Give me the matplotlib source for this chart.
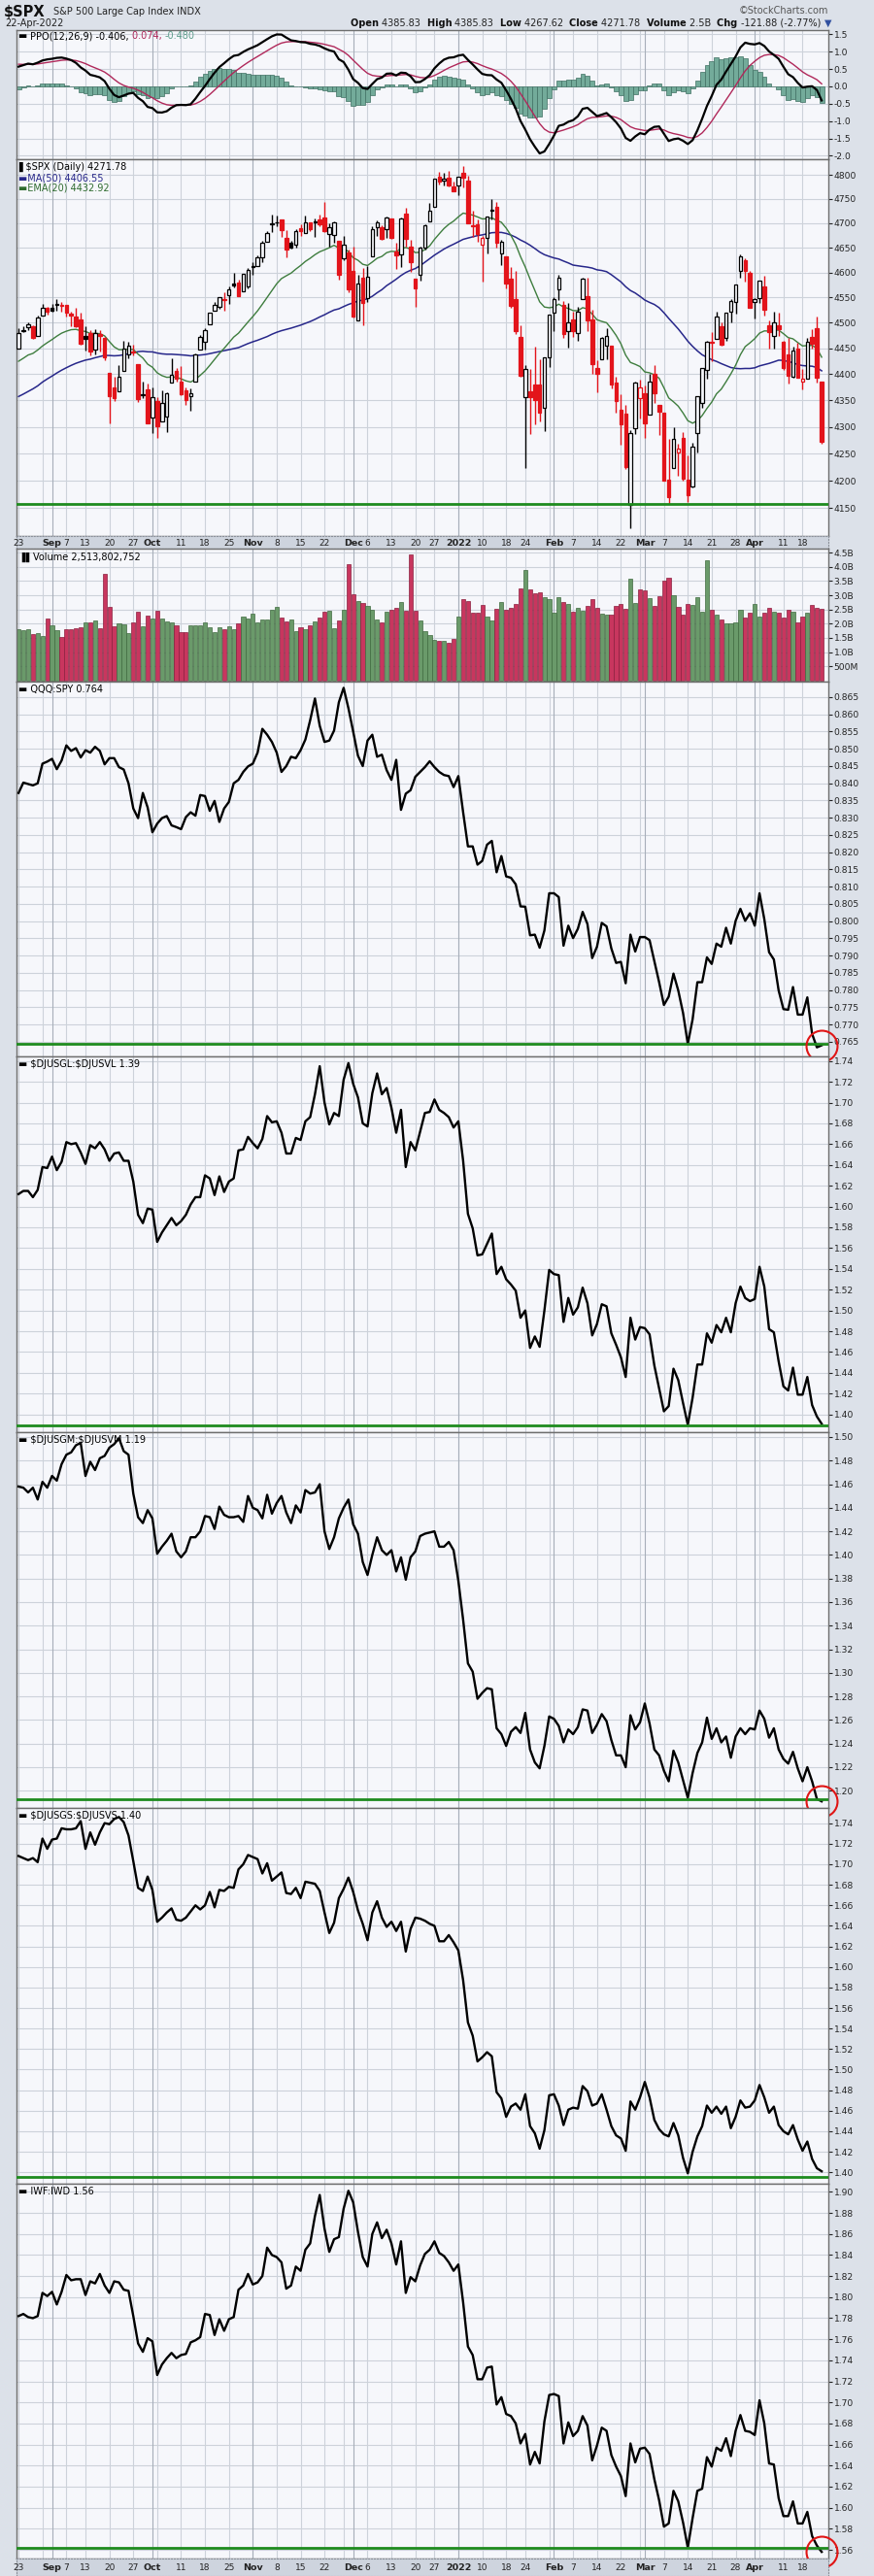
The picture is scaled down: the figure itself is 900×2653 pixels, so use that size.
import matplotlib
matplotlib.use("Agg")
import matplotlib.pyplot as plt
import numpy as np
import pandas as pd
from matplotlib.offsetbox import TextArea, HPacker, AnnotationBbox
from matplotlib.ticker import NullLocator

W, H = 900, 2653
plt.rcParams['font.family'] = ['DejaVu Sans']

# ---------------- data ----------------
holidays = ['2021-09-06', '2021-11-25', '2021-12-24', '2022-01-17', '2022-02-21', '2022-04-15']
dates = pd.bdate_range('2021-08-23', '2022-04-22', freq='C', holidays=holidays)

# closes before the visible window (needed to seed the moving averages / PPO)
prior_close = [4239.18, 4247.44, 4255.15, 4246.59, 4223.70, 4221.86, 4166.45, 4224.79, 4246.44, 4241.84,
               4266.49, 4280.70, 4290.61, 4291.80, 4297.50, 4319.94, 4352.34, 4343.54, 4358.13, 4320.82,
               4369.55, 4384.63, 4369.21, 4374.30, 4360.03, 4327.16, 4258.49, 4323.06, 4358.69, 4367.48,
               4411.79, 4422.30, 4401.46, 4400.64, 4419.15, 4395.26, 4387.16, 4423.15, 4402.66, 4429.10,
               4436.52, 4432.35, 4436.75, 4447.70, 4460.83, 4468.00, 4479.71, 4448.08, 4400.27, 4405.80,
               4441.67]

opens = [4450.29, 4484.40, 4490.45, 4493.75, 4474.10, 4513.76, 4529.75,
         4528.80, 4534.48, 4532.42, 4535.38, 4518.09, 4513.02, 4506.92, 4474.81, 4479.33, 4447.49, 4477.09,
         4469.74, 4402.95, 4374.45, 4367.43, 4406.75, 4438.04, 4442.12, 4419.54, 4362.41, 4370.67,
         4317.16, 4348.84, 4309.87, 4319.57, 4383.73, 4406.51, 4385.44, 4368.31, 4358.01, 4386.75, 4447.69,
         4463.72, 4497.34, 4524.42, 4532.24, 4546.12, 4553.69, 4578.69, 4580.22, 4562.84, 4572.87,
         4610.62, 4613.34, 4630.65, 4662.93, 4699.26, 4701.48, 4707.25, 4670.26, 4659.39, 4655.24, 4689.30,
         4679.42, 4701.50, 4700.72, 4708.44, 4712.00, 4678.48, 4675.78, 4664.63, 4628.75, 4640.25,
         4602.82, 4504.73, 4589.49, 4548.37, 4631.97, 4690.86, 4691.00, 4687.64, 4710.30, 4642.99, 4636.46,
         4719.13, 4652.50, 4587.90, 4594.96, 4650.36, 4703.96, 4733.99, 4795.49, 4788.64, 4794.23, 4775.21,
         4778.14, 4804.51, 4787.99, 4693.39, 4697.66, 4655.34, 4669.14, 4728.59, 4733.56, 4637.99, 4632.24,
         4588.03, 4547.35, 4471.38, 4356.32, 4366.64, 4380.58, 4380.58, 4336.19, 4431.79,
         4519.57, 4566.39, 4535.41, 4482.79, 4505.75, 4480.02, 4547.00, 4553.24, 4506.27, 4412.61, 4429.28,
         4455.75, 4456.06, 4384.57, 4332.74, 4324.93, 4155.77, 4298.38, 4354.17,
         4363.14, 4322.56, 4401.31, 4342.12, 4327.01, 4202.66, 4223.10, 4252.55, 4279.50, 4202.75, 4188.82,
         4288.14, 4345.11, 4407.34, 4462.40, 4469.10, 4493.10, 4469.98, 4522.66, 4541.09, 4602.86, 4624.20,
         4599.02,
         4540.32, 4547.97, 4572.45, 4494.17, 4474.65, 4494.15, 4462.64, 4437.59, 4394.30, 4449.12, 4385.63,
         4390.63, 4472.26, 4489.17, 4385.83]

highs = [4489.88, 4492.81, 4501.71, 4495.90, 4513.33, 4537.36, 4531.39,
         4537.11, 4545.85, 4541.45, 4535.38, 4521.79, 4529.90, 4520.47, 4492.99, 4485.68, 4486.87, 4485.87,
         4471.52, 4402.95, 4394.87, 4416.75, 4465.40, 4463.12, 4457.30, 4419.54, 4385.57, 4382.55,
         4375.19, 4355.51, 4369.23, 4365.57, 4429.97, 4412.02, 4415.88, 4374.89, 4372.87, 4439.73, 4475.82,
         4488.75, 4520.40, 4540.87, 4551.44, 4559.67, 4572.62, 4598.53, 4584.57, 4597.55, 4608.08,
         4620.34, 4635.15, 4663.46, 4683.00, 4718.50, 4714.92, 4708.53, 4684.85, 4664.55, 4688.47, 4697.42,
         4714.95, 4701.50, 4708.80, 4717.75, 4743.83, 4699.39, 4702.87, 4664.63, 4672.95, 4646.02,
         4652.94, 4595.46, 4608.03, 4612.60, 4694.04, 4705.06, 4695.26, 4713.57, 4710.30, 4660.47, 4712.60,
         4731.99, 4666.70, 4587.90, 4651.14, 4697.67, 4740.74, 4791.49, 4807.02, 4804.06, 4808.93, 4786.83,
         4796.64, 4818.62, 4797.70, 4725.01, 4707.95, 4673.02, 4714.13, 4748.83, 4744.13, 4665.13, 4632.24,
         4611.55, 4602.11, 4494.52, 4417.35, 4411.01, 4453.23, 4428.74, 4432.72, 4516.89,
         4550.49, 4595.31, 4542.88, 4539.66, 4521.86, 4531.32, 4590.03, 4588.92, 4526.33, 4426.22, 4472.77,
         4489.55, 4456.06, 4394.60, 4362.12, 4341.51, 4294.73, 4385.34, 4388.84,
         4378.45, 4401.48, 4416.78, 4342.12, 4327.01, 4276.94, 4299.40, 4268.28, 4291.01, 4247.57, 4271.05,
         4358.90, 4412.67, 4465.40, 4481.75, 4522.00, 4501.07, 4520.58, 4546.03, 4575.65, 4637.30, 4627.77,
         4603.07,
         4548.70, 4583.50, 4593.45, 4503.94, 4521.16, 4520.41, 4464.35, 4471.00, 4453.92, 4460.46, 4410.31,
         4471.03, 4488.29, 4512.94, 4385.83]

lows = [4450.29, 4482.28, 4485.66, 4468.99, 4474.10, 4513.76, 4515.80,
        4522.02, 4524.66, 4521.94, 4513.00, 4493.95, 4492.07, 4457.66, 4445.70, 4435.46, 4438.37, 4443.80,
        4427.76, 4305.91, 4347.96, 4367.43, 4406.75, 4430.27, 4436.19, 4346.33, 4355.08, 4306.24,
        4288.52, 4278.94, 4309.87, 4290.49, 4383.73, 4386.22, 4360.59, 4342.09, 4329.92, 4386.75, 4447.69,
        4447.47, 4496.41, 4524.40, 4526.89, 4524.00, 4537.36, 4569.17, 4551.66, 4562.84, 4567.59,
        4595.06, 4613.34, 4621.19, 4662.59, 4681.32, 4694.39, 4670.87, 4630.86, 4648.31, 4650.77, 4672.86,
        4679.42, 4684.41, 4672.78, 4694.22, 4682.17, 4652.66, 4659.89, 4585.43, 4625.26, 4560.00,
        4510.27, 4504.73, 4495.12, 4540.51, 4631.97, 4674.52, 4665.98, 4670.24, 4667.60, 4606.52, 4611.22,
        4651.89, 4600.22, 4531.10, 4583.16, 4645.53, 4703.96, 4733.99, 4780.04, 4778.08, 4775.33, 4765.75,
        4758.17, 4774.27, 4699.44, 4671.26, 4662.74, 4582.24, 4638.27, 4706.71, 4650.29, 4614.75, 4568.70,
        4530.20, 4477.95, 4395.34, 4222.62, 4287.11, 4304.80, 4309.50, 4292.46, 4414.02,
        4483.53, 4544.32, 4470.39, 4451.50, 4471.47, 4465.40, 4547.00, 4484.31, 4401.41, 4364.84, 4429.28,
        4429.68, 4373.81, 4327.22, 4267.11, 4221.51, 4114.65, 4286.83, 4315.12,
        4279.54, 4322.56, 4345.56, 4284.98, 4199.85, 4157.87, 4223.10, 4209.80, 4200.49, 4161.72, 4187.90,
        4251.99, 4335.65, 4390.57, 4424.30, 4469.10, 4455.81, 4465.17, 4501.07, 4517.69, 4589.62, 4581.32,
        4530.41,
        4507.57, 4539.21, 4514.17, 4450.04, 4450.30, 4474.60, 4408.38, 4381.34, 4392.70, 4394.59, 4370.30,
        4390.63, 4448.76, 4384.47, 4267.62]

closes = [4479.53, 4486.23, 4496.19, 4470.00, 4509.37, 4528.79, 4522.68,
          4524.09, 4536.95, 4535.43, 4520.03, 4514.07, 4493.28, 4458.58, 4468.73, 4443.05, 4480.70, 4473.75,
          4432.99, 4357.73, 4354.19, 4395.64, 4448.98, 4455.48, 4443.11, 4352.63, 4359.46, 4307.54,
          4357.04, 4300.46, 4345.72, 4363.55, 4399.76, 4391.34, 4361.19, 4350.65, 4363.80, 4438.26, 4471.37,
          4486.46, 4519.63, 4536.19, 4549.78, 4544.90, 4566.48, 4574.79, 4551.68, 4596.42, 4605.38,
          4613.67, 4630.65, 4660.57, 4680.06, 4697.53, 4701.70, 4685.25, 4646.71, 4649.27, 4682.85, 4682.80,
          4700.90, 4688.67, 4704.54, 4697.96, 4682.94, 4690.70, 4701.46, 4594.62, 4655.27, 4567.00,
          4513.04, 4577.10, 4538.43, 4591.67, 4686.75, 4701.21, 4667.45, 4712.02, 4668.97, 4634.09, 4709.85,
          4668.67, 4620.64, 4568.02, 4649.23, 4696.56, 4725.79, 4791.19, 4786.35, 4793.06, 4778.73, 4766.18,
          4796.56, 4793.54, 4700.58, 4696.05, 4677.03, 4670.29, 4713.07, 4726.35, 4659.03, 4662.85, 4577.11,
          4532.76, 4482.73, 4397.94, 4410.13, 4356.45, 4349.93, 4326.51, 4431.85, 4515.55,
          4546.54, 4589.38, 4477.44, 4500.53, 4483.87, 4521.54, 4587.18, 4504.08, 4418.64, 4401.67, 4471.07,
          4475.01, 4380.26, 4348.87, 4304.76, 4225.50, 4288.70, 4384.65, 4373.94,
          4306.26, 4386.54, 4363.49, 4328.87, 4201.09, 4170.70, 4277.88, 4259.52, 4204.31, 4173.11, 4262.45,
          4357.86, 4411.67, 4463.12, 4461.18, 4511.61, 4456.24, 4520.16, 4543.06, 4575.52, 4631.60, 4602.45,
          4530.41,
          4545.86, 4582.64, 4525.12, 4481.15, 4500.21, 4488.28, 4412.53, 4397.45, 4446.59, 4392.59, 4391.69,
          4462.21, 4459.45, 4393.66, 4271.78]

# volume in billions
volume_b = [1.82, 1.76, 1.79, 1.63, 1.67, 1.57, 2.18, 1.95, 1.76, 1.53,
            1.80, 1.79, 1.83, 1.88, 2.05, 2.03, 2.12, 1.83, 3.74, 2.60,
            1.91, 2.00, 1.98, 1.67, 2.05, 2.43, 1.90, 2.29, 2.19, 2.46,
            2.18, 2.07, 2.04, 1.94, 1.71, 1.71, 1.94, 1.94, 1.94, 2.05,
            1.86, 1.71, 1.86, 1.81, 1.90, 1.81, 2.02, 2.25, 2.17, 2.36,
            2.03, 2.15, 2.15, 2.48, 2.60, 2.22, 2.09, 2.14, 1.73, 1.88,
            1.81, 1.94, 2.07, 2.22, 2.43, 2.46, 1.83, 2.12, 2.49, 4.09,
            3.05, 2.80, 2.72, 2.63, 2.48, 2.15, 2.05, 2.42, 2.50, 2.57,
            2.75, 2.45, 4.45, 2.46, 2.10, 1.75, 1.60, 1.42, 1.38, 1.38,
            1.32, 1.45, 2.25, 2.85, 2.80, 2.40, 2.40, 2.65, 2.25, 2.10,
            2.52, 2.75, 2.50, 2.55, 2.70, 3.25, 3.88, 3.20, 3.08, 3.10,
            2.92, 2.85, 2.40, 2.92, 2.75, 2.70, 2.42, 2.55, 2.45, 2.62,
            2.88, 2.55, 2.35, 2.33, 2.33, 2.62, 2.70, 2.52, 3.58, 2.72,
            3.22, 3.17, 2.90, 2.62, 2.98, 3.50, 3.62, 3.00, 2.58, 2.33,
            2.70, 2.65, 2.92, 2.42, 4.22, 2.48, 2.33, 2.15, 2.00, 2.00,
            2.05, 2.48, 2.22, 2.40, 2.70, 2.25, 2.40, 2.55, 2.42, 2.38,
            2.22, 2.50, 2.42, 2.05, 2.25, 2.40, 2.65, 2.55, 2.51]

qqq_spy = [0.8372, 0.8402, 0.8398, 0.8394, 0.8400, 0.8457, 0.8463, 0.8471, 0.8441, 0.8466,
           0.8510, 0.8494, 0.8502, 0.8475, 0.8496, 0.8489, 0.8506, 0.8494, 0.8455, 0.8473,
           0.8473, 0.8447, 0.8440, 0.8400, 0.8327, 0.8299, 0.8372, 0.8330, 0.8258, 0.8283,
           0.8299, 0.8305, 0.8278, 0.8273, 0.8267, 0.8302, 0.8316, 0.8306, 0.8366, 0.8363,
           0.8320, 0.8349, 0.8288, 0.8327, 0.8346, 0.8400, 0.8410, 0.8433, 0.8449, 0.8457,
           0.8489, 0.8558, 0.8541, 0.8520, 0.8489, 0.8433, 0.8450, 0.8477, 0.8473, 0.8496,
           0.8527, 0.8583, 0.8646, 0.8567, 0.8520, 0.8524, 0.8553, 0.8635, 0.8677, 0.8618,
           0.8550, 0.8480, 0.8450, 0.8524, 0.8541, 0.8477, 0.8483, 0.8438, 0.8410, 0.8468,
           0.8323, 0.8370, 0.8380, 0.8419, 0.8433, 0.8447, 0.8464, 0.8447,
           0.8433, 0.8424, 0.8421, 0.8389, 0.8421, 0.8316, 0.8217, 0.8217, 0.8164, 0.8175,
           0.8222, 0.8233, 0.8142, 0.8189, 0.8130, 0.8126, 0.8107, 0.8043, 0.8042, 0.7959,
           0.7961, 0.7923, 0.7973, 0.8081, 0.8081, 0.8070, 0.7929, 0.7987, 0.7951, 0.7978,
           0.8027, 0.7992, 0.7893, 0.7926, 0.7995, 0.7985, 0.7921, 0.7879, 0.7882, 0.7820,
           0.7961, 0.7912, 0.7954, 0.7954, 0.7945, 0.7884, 0.7823, 0.7757, 0.7781, 0.7848,
           0.7799, 0.7734, 0.7644, 0.7715, 0.7823, 0.7823, 0.7895, 0.7876, 0.7935, 0.7926,
           0.7981, 0.7935, 0.8001, 0.8036, 0.8001, 0.8023, 0.7987, 0.8081, 0.8006, 0.7910,
           0.7889, 0.7799, 0.7745, 0.7743, 0.7809, 0.7729, 0.7729, 0.7779, 0.7673, 0.7634,
           0.7640]

gl_vl = [1.612, 1.615, 1.615, 1.609, 1.616, 1.638, 1.637, 1.648, 1.635, 1.643,
         1.662, 1.660, 1.661, 1.652, 1.641, 1.659, 1.656, 1.662, 1.655, 1.644,
         1.651, 1.652, 1.644, 1.644, 1.624, 1.592, 1.584, 1.598, 1.597, 1.566,
         1.575, 1.582, 1.589, 1.582, 1.586, 1.592, 1.602, 1.609, 1.609, 1.630,
         1.627, 1.611, 1.629, 1.614, 1.624, 1.627, 1.654, 1.655, 1.667, 1.661,
         1.656, 1.665, 1.687, 1.681, 1.682, 1.671, 1.651, 1.651, 1.666, 1.664,
         1.682, 1.686, 1.708, 1.735, 1.700, 1.679, 1.690, 1.687, 1.722, 1.738,
         1.718, 1.705, 1.680, 1.677, 1.709, 1.728, 1.708, 1.714, 1.695, 1.671,
         1.693, 1.638, 1.662, 1.654, 1.672, 1.690, 1.691, 1.703, 1.693, 1.690,
         1.686, 1.676, 1.682, 1.644, 1.593, 1.579, 1.553, 1.554, 1.564, 1.574,
         1.535, 1.542, 1.530, 1.525, 1.519, 1.493, 1.500, 1.464, 1.475, 1.465,
         1.500, 1.539, 1.535, 1.534, 1.489, 1.512, 1.496, 1.503, 1.522, 1.507,
         1.476, 1.487, 1.506, 1.504, 1.478, 1.467, 1.455, 1.436, 1.493, 1.472,
         1.484, 1.483, 1.477, 1.447, 1.425, 1.403, 1.408, 1.444, 1.433, 1.411,
         1.390, 1.416, 1.448, 1.448, 1.478, 1.469, 1.486, 1.479, 1.493, 1.479,
         1.507, 1.523, 1.512, 1.509, 1.511, 1.542, 1.523, 1.482, 1.479, 1.451,
         1.427, 1.423, 1.445, 1.419, 1.419, 1.436, 1.409, 1.398, 1.391]

gm_vm = [1.458, 1.457, 1.453, 1.457, 1.447, 1.462, 1.457, 1.467, 1.463, 1.477,
         1.485, 1.487, 1.493, 1.495, 1.467, 1.479, 1.472, 1.482, 1.484, 1.491,
         1.494, 1.499, 1.488, 1.485, 1.452, 1.432, 1.427, 1.438, 1.431, 1.401,
         1.407, 1.412, 1.418, 1.403, 1.398, 1.403, 1.415, 1.415, 1.420, 1.433,
         1.432, 1.422, 1.441, 1.434, 1.432, 1.432, 1.433, 1.428, 1.450, 1.440,
         1.438, 1.431, 1.451, 1.435, 1.444, 1.450, 1.436, 1.427, 1.442, 1.436,
         1.455, 1.452, 1.453, 1.460, 1.420, 1.405, 1.415, 1.431, 1.440, 1.447,
         1.426, 1.418, 1.394, 1.383, 1.400, 1.415, 1.404, 1.400, 1.404, 1.386,
         1.398, 1.379, 1.398, 1.403, 1.416, 1.418, 1.419, 1.420, 1.407, 1.407,
         1.411, 1.404, 1.378, 1.345, 1.308, 1.301, 1.278, 1.283, 1.287, 1.286,
         1.253, 1.248, 1.238, 1.250, 1.254, 1.249, 1.266, 1.235, 1.224, 1.219,
         1.238, 1.263, 1.261, 1.255, 1.241, 1.252, 1.248, 1.254, 1.269, 1.268,
         1.249, 1.256, 1.265, 1.259, 1.243, 1.230, 1.230, 1.220, 1.264, 1.252,
         1.258, 1.274, 1.257, 1.235, 1.230, 1.217, 1.208, 1.234, 1.224, 1.209,
         1.194, 1.215, 1.232, 1.241, 1.262, 1.244, 1.253, 1.241, 1.246, 1.228,
         1.246, 1.253, 1.248, 1.253, 1.252, 1.268, 1.261, 1.245, 1.253, 1.235,
         1.227, 1.223, 1.233, 1.219, 1.208, 1.220, 1.208, 1.193, 1.191]

gs_vs = [1.708, 1.706, 1.704, 1.706, 1.702, 1.725, 1.715, 1.724, 1.725, 1.735,
         1.734, 1.734, 1.735, 1.742, 1.715, 1.731, 1.719, 1.731, 1.740, 1.739,
         1.744, 1.746, 1.741, 1.728, 1.703, 1.677, 1.674, 1.688, 1.675, 1.644,
         1.648, 1.653, 1.657, 1.646, 1.645, 1.648, 1.654, 1.660, 1.656, 1.660,
         1.673, 1.658, 1.675, 1.674, 1.678, 1.677, 1.695, 1.700, 1.709, 1.707,
         1.705, 1.691, 1.701, 1.684, 1.688, 1.692, 1.672, 1.671, 1.677, 1.667,
         1.683, 1.682, 1.681, 1.674, 1.653, 1.633, 1.643, 1.667, 1.676, 1.687,
         1.673, 1.655, 1.642, 1.626, 1.653, 1.664, 1.648, 1.639, 1.644, 1.635,
         1.644, 1.615, 1.637, 1.648, 1.647, 1.645, 1.642, 1.640, 1.625, 1.625,
         1.631, 1.624, 1.616, 1.587, 1.546, 1.533, 1.508, 1.512, 1.517, 1.513,
         1.478, 1.472, 1.454, 1.464, 1.467, 1.461, 1.476, 1.445, 1.438, 1.423,
         1.441, 1.475, 1.476, 1.465, 1.446, 1.461, 1.463, 1.462, 1.484, 1.479,
         1.465, 1.467, 1.476, 1.461, 1.445, 1.436, 1.433, 1.421, 1.469, 1.461,
         1.473, 1.488, 1.473, 1.451, 1.442, 1.437, 1.435, 1.448, 1.436, 1.414,
         1.399, 1.420, 1.435, 1.445, 1.465, 1.458, 1.464, 1.457, 1.464, 1.443,
         1.454, 1.470, 1.463, 1.464, 1.470, 1.485, 1.473, 1.458, 1.464, 1.446,
         1.440, 1.437, 1.446, 1.432, 1.421, 1.430, 1.413, 1.404, 1.401]

iwf_iwd = [1.782, 1.784, 1.781, 1.780, 1.782, 1.804, 1.801, 1.805, 1.793, 1.805,
           1.821, 1.816, 1.817, 1.817, 1.802, 1.815, 1.813, 1.822, 1.811, 1.804,
           1.815, 1.814, 1.807, 1.806, 1.782, 1.756, 1.748, 1.761, 1.758, 1.726,
           1.736, 1.742, 1.747, 1.742, 1.745, 1.746, 1.757, 1.759, 1.762, 1.784,
           1.783, 1.764, 1.779, 1.768, 1.779, 1.781, 1.807, 1.811, 1.822, 1.812,
           1.814, 1.820, 1.847, 1.840, 1.838, 1.833, 1.808, 1.811, 1.829, 1.825,
           1.845, 1.851, 1.877, 1.897, 1.865, 1.843, 1.855, 1.857, 1.884, 1.901,
           1.890, 1.862, 1.838, 1.829, 1.860, 1.871, 1.856, 1.864, 1.851, 1.831,
           1.853, 1.804, 1.819, 1.815, 1.830, 1.841, 1.845, 1.853, 1.842, 1.839,
           1.833, 1.825, 1.831, 1.795, 1.753, 1.745, 1.722, 1.722, 1.733, 1.734,
           1.698, 1.705, 1.689, 1.687, 1.680, 1.661, 1.670, 1.641, 1.653, 1.642,
           1.682, 1.707, 1.708, 1.706, 1.661, 1.681, 1.668, 1.673, 1.687, 1.678,
           1.645, 1.659, 1.676, 1.673, 1.650, 1.639, 1.630, 1.611, 1.661, 1.643,
           1.656, 1.657, 1.651, 1.627, 1.607, 1.582, 1.585, 1.616, 1.606, 1.586,
           1.562, 1.590, 1.616, 1.618, 1.648, 1.639, 1.657, 1.654, 1.666, 1.649,
           1.673, 1.688, 1.673, 1.672, 1.669, 1.702, 1.680, 1.642, 1.641, 1.609,
           1.592, 1.592, 1.606, 1.585, 1.585, 1.596, 1.573, 1.564, 1.558]

spx_support = 4157
ratio_support = [0.7643, 1.389, 1.1931, 1.3958, 1.5616]

n = len(dates)
for nm, arr in [('opens', opens), ('highs', highs), ('lows', lows), ('closes', closes), ('vol', volume_b),
                ('qqq', qqq_spy), ('gl', gl_vl), ('gm', gm_vm), ('gs', gs_vs), ('iwf', iwf_iwd)]:
    if len(arr) != n:
        raise SystemExit('length mismatch %s %d != %d' % (nm, len(arr), n))

# ---------------- indicators ----------------
allc = pd.Series(prior_close + closes, dtype=float)
k = len(prior_close)
ma50 = allc.rolling(50).mean().values[k:]
ema20 = allc.ewm(span=20, adjust=False).mean().values[k:]
e12 = allc.ewm(span=12, adjust=False).mean()
e26 = allc.ewm(span=26, adjust=False).mean()
ppo_all = (e12 - e26) / e26 * 100
sig_all = ppo_all.ewm(span=9, adjust=False).mean()
ppo = ppo_all.values[k:]
sig = sig_all.values[k:]
hist = ppo - sig

x = np.arange(n)
prev_close = np.array([prior_close[-1]] + closes[:-1])
closes_a = np.array(closes)

# ---------------- styling ----------------
BG = '#DCE1E9'
PANEL = '#F6F7FB'
GRID = '#CDD2DA'
MGRID = '#A7AEB9'
RED = '#E3141B'
SUPPORT = '#1E8B1E'
XL = (-0.43, n + 0.4)

week_idx = [0] + [i for i in range(1, n) if dates[i].isocalendar()[1] != dates[i - 1].isocalendar()[1]]
month_idx = [i for i in range(1, n) if dates[i].month != dates[i - 1].month]

fig = plt.figure(figsize=(W / 100, H / 100), dpi=100, facecolor=BG)


def panel(x0, y0, x1, y1):
    return fig.add_axes([x0 / W, 1 - y1 / H, (x1 - x0) / W, (y1 - y0) / H])


def style(ax, ticks, labels, ylim, log=False):
    ax.set_facecolor(PANEL)
    if log:
        ax.set_yscale('log')
    ax.set_xlim(XL)
    ax.set_ylim(ylim)
    ax.set_yticks(ticks)
    ax.set_yticklabels(labels)
    ax.yaxis.set_minor_locator(NullLocator())
    ax.yaxis.tick_right()
    ax.tick_params(axis='y', direction='out', length=3, width=0.8, pad=1,
                   labelsize=6.6, colors='#222222')
    ax.set_xticks([])
    for t in ticks:
        ax.axhline(t, color=GRID, lw=0.8, zorder=0)
    for i in week_idx:
        ax.axvline(i, color=GRID, lw=0.8, zorder=0)
    for i in month_idx:
        ax.axvline(i, color=MGRID, lw=0.8, zorder=0)
    for s in ax.spines.values():
        s.set_color('#6E6E6E')
        s.set_linewidth(1.0)


def rich(parts, px, py, size=7, ha=0.0, family=None):
    kids = []
    for txt, col, wt in parts:
        props = dict(color=col, fontsize=size, fontweight=wt)
        if family:
            props['family'] = family
        kids.append(TextArea(txt.replace('$', r'\$'), textprops=props))
    box = HPacker(children=kids, align='baseline', pad=0, sep=0)
    ab = AnnotationBbox(box, (px, H - py), xycoords='figure pixels', box_alignment=(ha, 0.5),
                        frameon=False, pad=0, annotation_clip=False)
    fig.add_artist(ab)


def date_band(y0, y1):
    ax = panel(17, y0, 853, y1)
    ax.set_facecolor('#CED4DE')
    ax.set_xlim(XL)
    ax.set_ylim(0, 1)
    ax.set_xticks([])
    ax.set_yticks([])
    for s in ax.spines.values():
        s.set_color('#8A8F98')
        s.set_linestyle(':')
        s.set_linewidth(0.8)
    for i in week_idx:
        if any(abs(i - m) <= 2 for m in month_idx):
            continue
        ax.text(i, 0.45, str(dates[i].day), ha='center', va='center', fontsize=6.5,
                color='#222222', clip_on=False)
    for m in month_idx:
        lab = '2022' if dates[m].month == 1 else dates[m].strftime('%b')
        ax.text(m, 0.45, lab, ha='center', va='center', fontsize=6.8, fontweight='bold',
                color='#222222', clip_on=False)
    return ax


# ---------------- header ----------------
rich([('$SPX', '#111111', 'bold')], 4, 12, size=10.5)
rich([('S&P 500 Large Cap Index INDX', '#222222', 'normal')], 55, 12, size=7)
rich([('22-Apr-2022', '#222222', 'normal')], 5, 24, size=7)
rich([('\u00a9StockCharts.com', '#555555', 'normal')], 853, 11, size=7, ha=1.0)
rich([('Open ', '#111111', 'bold'), ('4385.83  ', '#222222', 'normal'),
      ('High ', '#111111', 'bold'), ('4385.83  ', '#222222', 'normal'),
      ('Low ', '#111111', 'bold'), ('4267.62  ', '#222222', 'normal'),
      ('Close ', '#111111', 'bold'), ('4271.78  ', '#222222', 'normal'),
      ('Volume ', '#111111', 'bold'), ('2.5B  ', '#222222', 'normal'),
      ('Chg ', '#111111', 'bold'), ('-121.88 (-2.77%) ', '#222222', 'normal'),
      ('\u25bc', '#3050A0', 'normal')], 856, 24, size=7, ha=1.0)

# ---------------- PPO ----------------
ax = panel(17, 31, 853, 164)
style(ax, [-2.0, -1.5, -1.0, -0.5, 0.0, 0.5, 1.0, 1.5],
      ['-2.0', '-1.5', '-1.0', '-0.5', '0.0', '0.5', '1.0', '1.5'], (-2.10, 1.624))
ax.bar(x, hist, width=1.0, color='#73AB9A', edgecolor='#3F6F62', linewidth=0.5, zorder=2)
ax.plot(x, sig, color='#B0285A', lw=1.0, zorder=3)
ax.plot(x, ppo, color='black', lw=1.6, zorder=4)
rich([('\u25ac ', 'black', 'normal'), ('PPO(12,26,9) -0.406, ', 'black', 'normal'),
      ('0.074, ', '#B0285A', 'normal'), ('-0.480', '#5E9E8C', 'normal')], 19, 37, size=7)

# ---------------- price ----------------
ax = panel(17, 164, 853, 552)
pticks = list(range(4150, 4801, 50))
style(ax, pticks, [str(t) for t in pticks], (4100, 4833), log=True)
up_day = closes_a >= prev_close
edge = np.where(up_day, 'black', RED)
hollow = closes_a >= np.array(opens)
face = [PANEL if h else e for h, e in zip(hollow, edge)]
ax.vlines(x, lows, highs, colors=edge, lw=1.0, zorder=3)
body_lo = np.minimum(opens, closes)
body_h = np.maximum(np.abs(closes_a - np.array(opens)), 0.8)
ax.bar(x, body_h, bottom=body_lo, width=0.72, color=face, edgecolor=edge, linewidth=0.9, zorder=4)
ax.plot(x, ma50, color='#27278A', lw=1.1, zorder=2)
ax.plot(x, ema20, color='#3E7D3E', lw=1.0, zorder=2)
ax.axhline(spx_support, color=SUPPORT, lw=2.0, zorder=5)
rich([('\u258c$SPX (Daily) 4271.78', 'black', 'normal')], 19, 172, size=7)
rich([('\u25acMA(50) 4406.55', '#27278A', 'normal')], 19, 183, size=7)
rich([('\u25acEMA(20) 4432.92', '#2E6B2E', 'normal')], 19, 194, size=7)

date_band(552, 565)

# ---------------- volume ----------------
ax = panel(17, 565, 853, 702)
vticks = [0.5, 1.0, 1.5, 2.0, 2.5, 3.0, 3.5, 4.0, 4.5]
style(ax, vticks, ['500M', '1.0B', '1.5B', '2.0B', '2.5B', '3.0B', '3.5B', '4.0B', '4.5B'], (-0.04, 4.64))
vcol = np.where(up_day, '#6A9A6A', '#C8365E')
vedge = np.where(up_day, '#3F6A3F', '#8A1F3E')
ax.bar(x, volume_b, width=0.85, color=vcol, edgecolor=vedge, linewidth=0.5, zorder=2)
rich([('\u2590\u258cVolume 2,513,802,752', 'black', 'normal')], 19, 574, size=7)

# ---------------- ratio panels ----------------
ratio_specs = [
    ((702, 1088), qqq_spy, np.round(np.arange(0.765, 0.8651, 0.005), 3), '%.3f', (0.76077, 0.8695),
     'QQQ:SPY 0.764', True),
    ((1088, 1475), gl_vl, np.round(np.arange(1.40, 1.7401, 0.02), 2), '%.2f', (1.3829, 1.7444),
     '$DJUSGL:$DJUSVL 1.39', False),
    ((1475, 1862), gm_vm, np.round(np.arange(1.20, 1.5001, 0.02), 2), '%.2f', (1.1854, 1.5041),
     '$DJUSGM:$DJUSVM 1.19', True),
    ((1862, 2249), gs_vs, np.round(np.arange(1.40, 1.7401, 0.02), 2), '%.2f', (1.3889, 1.7548),
     '$DJUSGS:$DJUSVS 1.40', False),
    ((2249, 2635), iwf_iwd, np.round(np.arange(1.56, 1.9001, 0.02), 2), '%.2f', (1.5517, 1.9077),
     'IWF:IWD 1.56', True),
]

axes_r = []
for k_, ((y0, y1), vals, ticks, fmt, ylim, label, circ) in enumerate(ratio_specs):
    ax = panel(17, y0, 853, y1)
    style(ax, list(ticks), [fmt % t for t in ticks], ylim)
    ax.plot(x, vals, color='black', lw=1.7, zorder=3)
    ax.axhline(ratio_support[k_], color=SUPPORT, lw=2.0, zorder=4)
    rich([('\u25ac ' + label, 'black', 'normal')], 19, y0 + 8, size=7)
    axes_r.append((ax, vals, circ))

for ax, vals, circ in axes_r:
    if circ:
        ax.plot(x[-1], vals[-1], marker='o', ms=23, mfc='none', mec='#E01515', mew=1.5,
                clip_on=False, zorder=10)

date_band(2635, 2653)

fig.savefig('out.png', dpi=100, facecolor=BG)
